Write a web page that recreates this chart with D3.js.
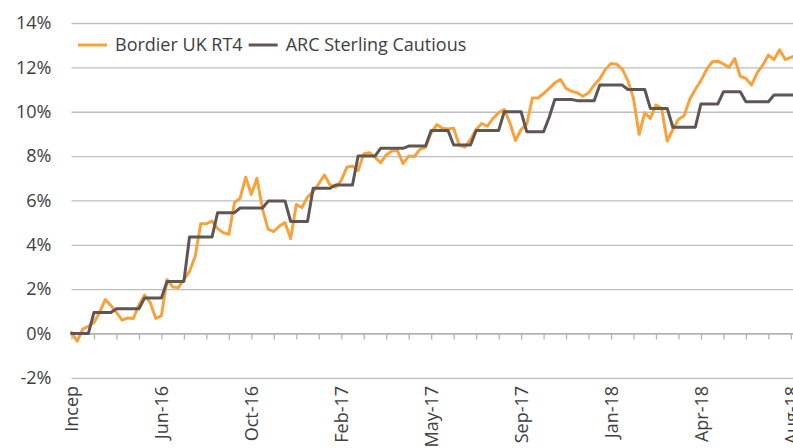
<!DOCTYPE html>
<html>
<head>
<meta charset="utf-8">
<script src="https://cdn.jsdelivr.net/npm/d3@7"></script>
<style>
  html, body { margin: 0; padding: 0; background: #fff; overflow: hidden; }
  svg { display: block; font-family: 'Open Sans', sans-serif; }
</style>
</head>
<body>
<div id="chart"></div>
<script>
// weekly cumulative returns (%), from inception
const seriesNames = ['Bordier UK RT4', 'ARC Sterling Cautious'];
const seriesColors = ['#f6a33d', '#5f5654'];

const bordier = [
  0.05, -0.35, 0.2, 0.33, 0.5, 0.95, 1.53, 1.27, 0.95, 0.6,
  0.7, 0.68, 1.3, 1.73, 1.4, 0.68, 0.8, 2.43, 2.1, 2.07,
  2.43, 2.8, 3.47, 4.95, 4.95, 5.07, 4.73, 4.55, 4.47, 5.9,
  6.1, 7.05, 6.27, 7.0, 5.6, 4.7, 4.6, 4.85, 5.0, 4.28,
  5.82, 5.68, 6.15, 6.4, 6.75, 7.15, 6.7, 6.6, 6.9, 7.5,
  7.55, 7.35, 8.1, 8.15, 7.95, 7.7, 8.05, 8.23, 8.25, 7.66,
  8.0, 7.98, 8.3, 8.4, 9.05, 9.42, 9.25, 9.22, 9.25, 8.5,
  8.4, 8.75, 9.2, 9.47, 9.35, 9.7, 9.95, 10.1, 9.5, 8.7,
  9.2, 9.44, 10.62, 10.62, 10.82, 11.05, 11.3, 11.45, 11.05, 10.92,
  10.85, 10.7, 10.85, 11.2, 11.48, 11.9, 12.17, 12.14, 11.92, 11.4,
  10.6, 8.98, 9.95, 9.7, 10.3, 10.15, 8.68, 9.2, 9.66, 9.82,
  10.55, 11.0, 11.4, 11.9, 12.25, 12.28, 12.15, 12.0, 12.4, 11.6,
  11.5, 11.2, 11.75, 12.1, 12.55, 12.35, 12.79, 12.35, 12.45, 12.55
];

const arc = [
  0, 0, 0, 0, 0.95, 0.95, 0.95, 0.95, 1.12, 1.12,
  1.12, 1.12, 1.12, 1.6, 1.6, 1.6, 1.6, 2.35, 2.35, 2.35,
  2.35, 4.35, 4.35, 4.35, 4.35, 4.35, 5.45, 5.45, 5.45, 5.45,
  5.66, 5.66, 5.66, 5.66, 5.66, 5.97, 5.97, 5.97, 5.97, 5.05,
  5.05, 5.05, 5.05, 6.55, 6.55, 6.55, 6.55, 6.7, 6.7, 6.7,
  6.7, 8.0, 8.0, 8.0, 8.0, 8.35, 8.35, 8.35, 8.35, 8.35,
  8.45, 8.45, 8.45, 8.45, 9.15, 9.15, 9.15, 9.15, 8.5, 8.5,
  8.5, 8.5, 9.15, 9.15, 9.15, 9.15, 9.15, 10.0, 10.0, 10.0,
  10.0, 9.1, 9.1, 9.1, 9.1, 9.75, 10.55, 10.55, 10.55, 10.55,
  10.5, 10.5, 10.5, 10.5, 11.2, 11.2, 11.2, 11.2, 11.2, 11.0,
  11.0, 11.0, 11.0, 10.15, 10.15, 10.15, 10.15, 9.3, 9.3, 9.3,
  9.3, 9.3, 10.35, 10.35, 10.35, 10.35, 10.9, 10.9, 10.9, 10.9,
  10.45, 10.45, 10.45, 10.45, 10.45, 10.75, 10.75, 10.75, 10.75, 10.75
];

const xLabels = ['Incep', 'Jun-16', 'Oct-16', 'Feb-17', 'May-17', 'Sep-17', 'Jan-18', 'Apr-18', 'Aug-18'];
const yTicks = [-2, 0, 2, 4, 6, 8, 10, 12, 14];
const tickEvery = 4;    // a small tick mark every 4 weeks
const labelEvery = 16;  // a label every 16 weeks

const width = 793, height = 448;
const margin = {top: 23, left: 71.5};
const step = 5.62;
const nPoints = bordier.length;

const svg = d3.select('#chart').append('svg')
    .attr('width', width)
    .attr('height', height);

const scaleX = d3.scaleLinear().domain([0, nPoints - 1]).range([margin.left, margin.left + step * (nPoints - 1)]);
const scaleY = d3.scaleLinear().domain([-2, 14]).range([377.9, margin.top]);

// gridlines + y labels
const yAxis = d3.axisLeft(scaleY)
    .tickValues(yTicks)
    .tickFormat((d) => d + '%')
    .tickSize(-(width + 20 - margin.left))
    .tickPadding(20);
const yG = svg.append('g')
    .attr('transform', 'translate(' + margin.left + ',0)')
    .call(yAxis);
yG.select('.domain').remove();
yG.selectAll('.tick line').attr('stroke', '#bdbdbd').attr('stroke-width', 1.3);
yG.selectAll('.tick text')
    .attr('fill', '#404040')
    .style('font-size', '18px')
    .style('font-family', "'Open Sans', sans-serif");

// category axis sitting on the 0% line (tick marks only)
const xTickAxis = d3.axisBottom(scaleX)
    .tickValues(d3.range(0, nPoints, tickEvery))
    .tickFormat('')
    .tickSize(6)
    .tickSizeOuter(0);
const xTickG = svg.append('g')
    .attr('transform', 'translate(0,' + scaleY(0) + ')')
    .call(xTickAxis);
xTickG.select('.domain').attr('stroke', '#b3b3b3').attr('stroke-width', 1.3)
    .attr('d', 'M' + margin.left + ',0H' + (width + 20));
xTickG.selectAll('.tick line').attr('stroke', '#b3b3b3').attr('stroke-width', 1.3);

// labels below the plot, rotated
const xLabelAxis = d3.axisBottom(scaleX)
    .tickValues(d3.range(0, nPoints, labelEvery))
    .tickFormat((d) => xLabels[d / labelEvery])
    .tickSize(0);
const xLabelG = svg.append('g')
    .attr('transform', 'translate(0,' + (scaleY(-2) + 8) + ')')
    .call(xLabelAxis);
xLabelG.select('.domain').remove();
xLabelG.selectAll('.tick text')
    .attr('fill', '#404040')
    .style('font-size', '18px')
    .style('font-family', "'Open Sans', sans-serif")
    .attr('text-anchor', 'end')
    .attr('transform', 'rotate(-90)')
    .attr('x', 0)
    .attr('y', 0)
    .attr('dy', '0.35em');

// lines
const lineGen = d3.line()
    .x((d, i) => scaleX(i))
    .y((d) => scaleY(d));

svg.selectAll('.series')
    .data([bordier, arc])
    .enter()
    .append('path')
    .attr('class', 'series')
    .attr('fill', 'none')
    .attr('stroke', (d, i) => seriesColors[i])
    .attr('stroke-width', 3)
    .attr('stroke-linejoin', 'round')
    .attr('stroke-linecap', 'round')
    .attr('d', lineGen);

// legend
const legend = svg.append('g').attr('transform', 'translate(78,45)');
let legendX = 0;
seriesNames.forEach((name, i) => {
  const item = legend.append('g').attr('transform', 'translate(' + legendX + ',0)');
  item.append('line')
      .attr('x1', 0).attr('x2', 29)
      .attr('y1', 0).attr('y2', 0)
      .attr('stroke', seriesColors[i])
      .attr('stroke-width', 3);
  const txt = item.append('text')
      .attr('x', 37)
      .attr('dy', '0.35em')
      .attr('fill', '#404040')
      .style('font-size', '18px')
      .text(name);
  legendX += 37 + txt.node().getComputedTextLength() + 6;
});
</script>
</body>
</html>
